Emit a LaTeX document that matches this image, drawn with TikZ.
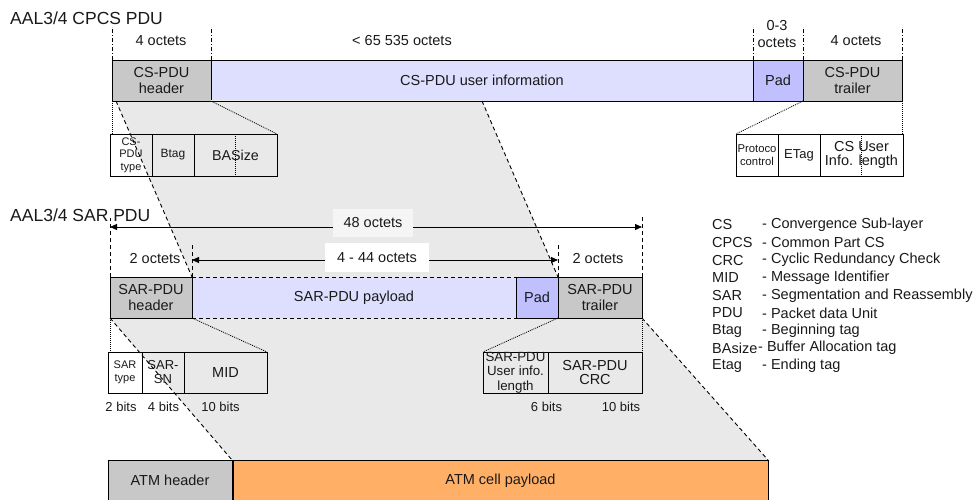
\documentclass[tikz,border=0pt]{standalone}
\usepackage{fontspec}
\setmainfont{Liberation Sans}
\usetikzlibrary{arrows.meta,backgrounds}

\definecolor{hdrgray}{RGB}{200,200,200}
\definecolor{infoblue}{RGB}{222,222,255}
\definecolor{padblue}{RGB}{192,192,255}
\definecolor{zonegray}{RGB}{233,233,233}
\definecolor{cellorange}{RGB}{255,176,102}
\definecolor{tagbg}{RGB}{245,245,245}
\definecolor{ink}{RGB}{25,25,25}

\newcommand\fsz[2]{\fontsize{#1}{#2}\selectfont}

\tikzset{
  field/.style={draw=black, line width=0.9pt, inner sep=0pt, outer sep=0pt,
    anchor=north west, align=center, text=ink, font=\fsz{14.5}{16}},
  lbl/.style={inner sep=0pt, text=ink, font=\fsz{14.5}{16}, align=center},
  bitlbl/.style={inner sep=0pt, text=ink, font=\fsz{13}{15}},
  title/.style={inner sep=0pt, anchor=west, text=ink, font=\fsz{17.5}{20}},
  legend/.style={inner sep=0pt, anchor=west, text=ink, font=\fsz{14.5}{16}},
  bound/.style={line width=0.9pt, dash pattern=on 4pt off 2pt on 1pt off 2pt},
  sarbound/.style={line width=0.9pt, dash pattern=on 4pt off 3pt},
  zoneedge/.style={line width=0.9pt, dash pattern=on 4pt off 3pt},
  edgebase/.style={line width=1pt, draw=zonegray},
  expand/.style={line width=0.8pt, dash pattern=on 1pt off 1pt},
  span/.style={line width=0.9pt, {Triangle[length=7pt,width=6pt]}-{Triangle[length=7pt,width=6pt]}},
}

\begin{document}
\begin{tikzpicture}[x=1pt,y=-1pt]
\useasboundingbox (0,0) rectangle (978,500);

% ---------------- CPCS PDU ----------------
\node[title] (cpcstitle) at (10,18) {AAL3/4 CPCS PDU};

\node[field, fill=hdrgray, minimum width=99pt, minimum height=41pt] (cshdr) at (112,60) {CS-PDU\\header};
\node[field, fill=infoblue, minimum width=542pt, minimum height=41pt] (csinfo) at (211,60) {CS-PDU user information};
\node[field, fill=padblue, minimum width=50pt, minimum height=41pt] (cspad) at (753,60) {Pad};
\node[field, fill=hdrgray, minimum width=99pt, minimum height=41pt] (cstrl) at (803,60) {CS-PDU\\trailer};

\draw[bound] (cshdr.north west) -- ([yshift=33pt]cshdr.north west);
\draw[bound] (cshdr.north east) -- ([yshift=33pt]cshdr.north east);
\draw[bound] (cspad.north west) -- ([yshift=33pt]cspad.north west);
\draw[bound] (cstrl.north west) -- ([yshift=33pt]cstrl.north west);
\draw[bound] (cstrl.north east) -- ([yshift=33pt]cstrl.north east);

\node[lbl] (oct4a) at (161,41) {4 octets};
\node[lbl] (octmax) at (402,41) {< 65 535 octets};
\node[lbl, font=\fsz{14.5}{17}] (oct03) at (777,34) {0-3\\octets};
\node[lbl] (oct4b) at (856,41) {4 octets};

% header fields
\node[field, minimum width=42pt, minimum height=42pt, font=\fsz{11}{12.5}] (cstype) at (110,134) {CS-\\PDU\\type};
\node[field, minimum width=42pt, minimum height=42pt, font=\fsz{12}{14}] (btag) at (152,134) {Btag};
\node[field, minimum width=83pt, minimum height=42pt, font=\fsz{14.3}{16}] (basize) at (194,134) {BASize};
\draw[expand] (basize.north) -- (basize.south);
\draw[expand] (cshdr.south west) -- (cshdr.south west |- cstype.north);
\draw[expand] (cshdr.south east) -- (basize.north east);

% trailer fields
\node[field, minimum width=42pt, minimum height=42pt, font=\fsz{11.3}{13.5}] (proto) at (736,134) {Protoco\\control};
\node[field, minimum width=42pt, minimum height=42pt, font=\fsz{13}{15}] (etag) at (778,134) {ETag};
\node[field, minimum width=83pt, minimum height=42pt, font=\fsz{14.5}{14}] (csul) at (820,134) {CS User\\Info. length};
\draw[expand] (csul.north) -- (csul.south);
\draw[expand] (cstrl.south west) -- (proto.north west);
\draw[expand] (cstrl.south east) -- (cstrl.south east |- csul.north);

% ---------------- SAR PDU ----------------
\node[title] (sartitle) at (10,215) {AAL3/4 SAR PDU};

\node[field, fill=hdrgray, minimum width=82pt, minimum height=41pt] (sarhdr) at (110,277) {SAR-PDU\\header};
\node[field, fill=infoblue, minimum width=324pt, minimum height=41pt] (sarpay) at (192,277) {SAR-PDU payload};
\node[field, fill=padblue, minimum width=42pt, minimum height=41pt] (sarpad) at (516,277) {Pad};
\node[field, fill=hdrgray, minimum width=84pt, minimum height=41pt] (sartrl) at (558,277) {SAR-PDU\\trailer};

% octet spans
\draw[sarbound] (sarhdr.north west) -- ([yshift=59pt]sarhdr.north west);
\draw[sarbound] (sartrl.north east) -- ([yshift=60pt]sartrl.north east);
\draw[sarbound] (sarpay.north west) -- ([yshift=34pt]sarpay.north west);
\draw[sarbound] (sarpad.north east) -- ([yshift=34pt]sarpad.north east);

\draw[span] ([yshift=50pt]sarhdr.north west) -- ([yshift=50pt]sartrl.north east);
\draw[span] ([yshift=17pt]sarpay.north west) -- ([yshift=17pt]sarpad.north east);

\node[lbl, fill=tagbg, minimum width=80pt, minimum height=28pt] (oct48) at (373,223) {48 octets};
\node[lbl, fill=white, minimum width=104pt, minimum height=29pt] (oct444) at (377,257.5) {4 - 44 octets};
\node[lbl] (oct2a) at (155,259) {2 octets};
\node[lbl] (oct2b) at (598,259) {2 octets};

% header fields
\node[field, minimum width=34pt, minimum height=41pt, font=\fsz{11}{13.5}] (sartype) at (108,352) {SAR\\type};
\node[field, minimum width=42pt, minimum height=41pt, font=\fsz{13}{14}] (sarsn) at (142,352) {SAR-\\SN};
\node[field, minimum width=83pt, minimum height=41pt] (mid) at (184,352) {MID};
\draw[expand] (sarhdr.south west) -- (sarhdr.south west |- sartype.north);
\draw[expand] (sarhdr.south east) -- (mid.north east);

% trailer fields
\node[field, minimum width=65pt, minimum height=41pt, font=\fsz{13.3}{14.5}] (sarul) at (483,352) {SAR-PDU\\User info.\\length};
\node[field, minimum width=94pt, minimum height=41pt, font=\fsz{14.5}{13.5}] (sarcrc) at (548,352) {SAR-PDU\\CRC};
\draw[expand] (sartrl.south west) -- (sarul.north west);
\draw[expand] (sartrl.south east) -- (sartrl.south east |- sarcrc.north);

\node[bitlbl] (b2) at (121,407) {2 bits};
\node[bitlbl] (b4) at (163.5,407) {4 bits};
\node[bitlbl] (b10a) at (220.5,407) {10 bits};
\node[bitlbl] (b6) at (546.5,407) {6 bits};
\node[bitlbl] (b10b) at (621,407) {10 bits};

% ---------------- ATM cell ----------------
\node[field, fill=hdrgray, minimum width=124pt, minimum height=41pt] (atmhdr) at (108,460) {ATM header};
\node[field, fill=cellorange, minimum width=535pt, minimum height=41pt] (atmpay) at (233,460) {ATM cell payload};

% ---------------- mapping zones ----------------
\begin{scope}[on background layer]
  \fill[zonegray] ([xshift=4pt]cshdr.south west) -- (csinfo.south) -- (sarpad.north east) -- (sarhdr.north east) -- cycle;
  \fill[zonegray] (sarhdr.south west) -- (sartrl.south east) -- (atmpay.north east) -- (atmhdr.north east) -- cycle;
\end{scope}
% dashed zone borders running along the payload edges
\draw[edgebase] (csinfo.south west) -- (csinfo.south);
\draw[zoneedge] (csinfo.south west) -- (csinfo.south);
\draw[edgebase] (sarpay.north west) -- (sarpay.north east);
\draw[zoneedge] (sarpay.north west) -- (sarpay.north east);
\draw[edgebase] (sarpay.south west) -- (sarpay.south east);
\draw[zoneedge] (sarpay.south west) -- (sarpay.south east);
% slanted zone borders
\draw[zoneedge] ([xshift=4pt]cshdr.south west) -- (sarhdr.north east);
\draw[zoneedge] (csinfo.south) -- (sarpad.north east);
\draw[zoneedge] (sarhdr.south west) -- (atmhdr.north east);
\draw[zoneedge] (sartrl.south east) -- (atmpay.north east);

% ---------------- abbreviations ----------------
\foreach \ab/\desc/\dx [count=\i from 0] in {
    CS/- Convergence Sub-layer/762,
    CPCS/- Common Part CS/762,
    CRC/- Cyclic Redundancy Check/762,
    MID/- Message Identifier/762,
    SAR/- Segmentation and Reassembly/762,
    PDU/- Packet data Unit/762,
    Btag/- Beginning tag/762,
    BAsize/- Buffer Allocation tag/758,
    Etag/- Ending tag/762} {
  \node[legend] (ab\i) at (712,225+17.6*\i) {\ab};
  \node[legend] (de\i) at (\dx,225+17.6*\i) {\desc};
}
\end{tikzpicture}
\end{document}
